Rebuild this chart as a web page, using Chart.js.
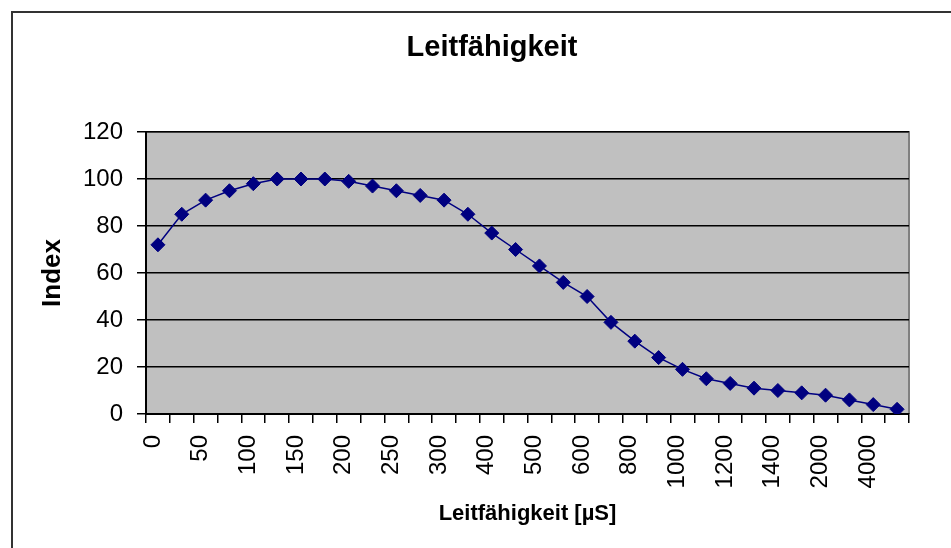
<!DOCTYPE html>
<html>
<head>
<meta charset="utf-8">
<script src="https://cdn.jsdelivr.net/npm/chart.js@4"></script>
<style>
    html, body { margin: 0; padding: 0; background: #fff; overflow: hidden; }
    #wrap { position: relative; width: 951px; height: 548px; }
    #frame { position: absolute; left: 11px; top: 11px; width: 960px; height: 560px; border-left: 2px solid #333; border-top: 2px solid #333; }
    #chart { position: absolute; left: 0; top: 0; }
</style>
</head>
<body>
<div id="wrap">
    <div id="frame"></div>
    <canvas id="chart" width="951" height="548"></canvas>
</div>
<script>
    // visible category labels (every second category carries a label)
    const tickLabels = ['0', '50', '100', '150', '200', '250', '300', '400', '500', '600', '800', '1000', '1200', '1400', '2000', '4000'];
    const indexValues = [72, 85, 91, 95, 98, 100, 100, 100, 99, 97, 95, 93, 91, 85, 77, 70,
        63, 56, 50, 39, 31, 24, 19, 15, 13, 11, 10, 9, 8, 6, 4, 2];

    const labels = tickLabels.flatMap((l) => [l, '']);
    const fontFamily = '"Liberation Sans", Arial, sans-serif';

    const plotBackground = {
        id: 'plotBackground',
        beforeDraw(chart) {
            const { ctx, chartArea: a } = chart;
            ctx.save();
            ctx.fillStyle = '#c0c0c0';
            ctx.fillRect(a.left, a.top, a.right - a.left, a.bottom - a.top);
            ctx.strokeStyle = '#808080';
            ctx.lineWidth = 2;
            ctx.beginPath();
            ctx.moveTo(a.left, a.top);
            ctx.lineTo(a.right, a.top);
            ctx.lineTo(a.right, a.bottom);
            ctx.stroke();
            ctx.restore();
        },
    };

    // the Excel title sits right of the plot centre, so draw it by hand
    const chartTitle = {
        id: 'chartTitle',
        afterDraw(chart) {
            const { ctx } = chart;
            ctx.save();
            ctx.textAlign = 'center';
            ctx.textBaseline = 'middle';
            ctx.font = 'bold 29px ' + fontFamily;
            ctx.fillStyle = '#000';
            ctx.fillText('Leitfähigkeit', 492, 48);
            ctx.restore();
        },
    };

    new Chart(document.getElementById('chart'), {
        type: 'line',
        plugins: [plotBackground, chartTitle],
        data: {
            labels: labels,
            datasets: [{
                label: 'Index',
                data: indexValues,
                borderColor: '#000080',
                backgroundColor: '#000080',
                borderWidth: 1.5,
                tension: 0,
                pointStyle: 'rectRot',
                pointRadius: 7,
                pointBorderWidth: 1,
                pointBorderColor: '#000080',
                pointBackgroundColor: '#000080',
            }],
        },
        options: {
            responsive: false,
            animation: false,
            layout: { padding: { left: 12, right: 42, top: 132, bottom: 0 } },
            plugins: {
                legend: { display: false },
                tooltip: { enabled: false },
                title: { display: false },
            },
            scales: {
                x: {
                    offset: true,
                    afterFit: (scale) => { scale.height = 134; },
                    grid: { display: true, offset: true, drawOnChartArea: false, drawTicks: true, tickLength: 9, color: '#000', lineWidth: 1.5 },
                    border: { display: true, color: '#000', width: 2 },
                    ticks: {
                        autoSkip: false,
                        minRotation: 90,
                        maxRotation: 90,
                        padding: 12,
                        labelOffset: -5,
                        color: '#000',
                        font: { family: fontFamily, size: 24 },
                    },
                    title: {
                        display: true,
                        text: 'Leitfähigkeit [µS]',
                        color: '#000',
                        font: { family: fontFamily, size: 22, weight: 'bold' },
                        padding: { top: 0, bottom: 21 },
                    },
                },
                y: {
                    min: 0,
                    max: 120,
                    afterFit: (scale) => { scale.width = 134; },
                    grid: { color: '#000', lineWidth: 1.5, tickLength: 9 },
                    border: { display: true, color: '#000', width: 2 },
                    ticks: {
                        stepSize: 20,
                        padding: 14,
                        color: '#000',
                        font: { family: fontFamily, size: 24 },
                    },
                    title: {
                        display: true,
                        text: 'Index',
                        color: '#000',
                        font: { family: fontFamily, size: 26, weight: 'bold' },
                        padding: { top: 25, bottom: 0 },
                    },
                },
            },
        },
    });
</script>
</body>
</html>
